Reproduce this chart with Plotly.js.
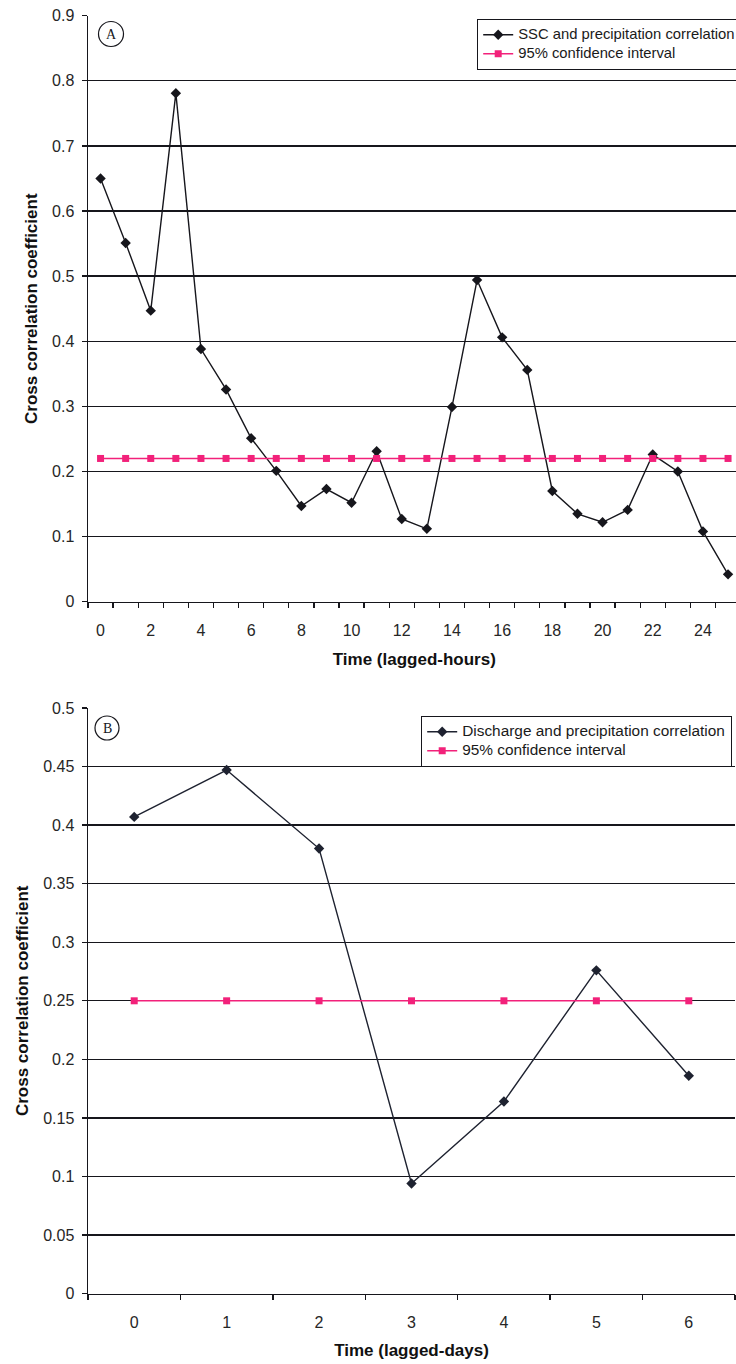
<!DOCTYPE html>
<html>
<head>
<meta charset="utf-8">
<script src="https://cdn.plot.ly/plotly-3.0.1.min.js"></script>
<style>
  html, body { margin: 0; padding: 0; background: #ffffff; overflow: hidden; }
  #frame { width: 736px; height: 1364px; overflow: hidden; position: relative; }
  #chart { width: 780px; height: 1364px; }
</style>
</head>
<body>
<div id="frame"><div id="chart"></div></div>
<script>
// Panel A: hourly lags, SSC vs precipitation
const lagHours = [0, 1, 2, 3, 4, 5, 6, 7, 8, 9, 10, 11, 12, 13, 14, 15, 16, 17, 18, 19, 20, 21, 22, 23, 24, 25];
const hourLabels = ['0', '', '2', '', '4', '', '6', '', '8', '', '10', '', '12', '', '14', '', '16', '', '18', '', '20', '', '22', '', '24', ''];
const sscCorr = [0.650, 0.551, 0.447, 0.781, 0.388, 0.326, 0.251, 0.201, 0.147, 0.173, 0.152, 0.231, 0.127,
                 0.112, 0.299, 0.494, 0.406, 0.356, 0.170, 0.135, 0.122, 0.141, 0.226, 0.200, 0.108, 0.042];
const ciHours = [0.22, 0.22, 0.22, 0.22, 0.22, 0.22, 0.22, 0.22, 0.22, 0.22, 0.22, 0.22, 0.22,
                 0.22, 0.22, 0.22, 0.22, 0.22, 0.22, 0.22, 0.22, 0.22, 0.22, 0.22, 0.22, 0.22];

// Panel B: daily lags, discharge vs precipitation
const lagDays = [0, 1, 2, 3, 4, 5, 6];
const dayLabels = ['0', '1', '2', '3', '4', '5', '6'];
const dischargeCorr = [0.407, 0.447, 0.380, 0.094, 0.164, 0.276, 0.186];
const ciDays = [0.25, 0.25, 0.25, 0.25, 0.25, 0.25, 0.25];

// The figure is a little wider than the visible frame, so the plot area
// and legends run off the right-hand edge.
const W = 780, H = 1364;
const px = v => v / W;          // horizontal pixel -> paper fraction
const py = v => 1 - v / H;      // vertical pixel (from top) -> paper fraction

const INK = '#16161c';
const PINK = '#f2217a';
const FONT = 'Liberation Sans, Arial, Helvetica, sans-serif';

// Legend rows are spaced from a small base font; the entry text itself is set larger.
const entry = (text, size) => '<span style="font-size:' + size + 'px">' + text + '</span>';

const ciLine = { color: PINK, width: 1.5 };

const traces = [
  {
    x: lagHours, y: sscCorr, xaxis: 'x', yaxis: 'y', legend: 'legend',
    name: entry('SSC and precipitation correlation', 14.8), mode: 'lines+markers',
    line: { color: INK, width: 1.4 }, marker: { symbol: 'diamond', size: 8, color: INK }
  },
  {
    x: lagHours, y: ciHours, xaxis: 'x', yaxis: 'y', legend: 'legend',
    name: entry('95% confidence interval', 14.8), mode: 'lines+markers',
    line: ciLine, marker: { symbol: 'square', size: 7, color: PINK }
  },
  {
    x: lagDays, y: dischargeCorr, xaxis: 'x2', yaxis: 'y2', legend: 'legend2',
    name: entry('Discharge and precipitation correlation', 15.4), mode: 'lines+markers',
    line: { color: '#1e2230', width: 1.4 }, marker: { symbol: 'diamond', size: 8, color: '#1e2230' }
  },
  {
    x: lagDays, y: ciDays, xaxis: 'x2', yaxis: 'y2', legend: 'legend2',
    name: entry('95% confidence interval', 15.4), mode: 'lines+markers',
    line: ciLine, marker: { symbol: 'square', size: 7, color: PINK }
  }
];

const tickFont = { family: FONT, size: 16, color: '#262626' };
const titleFont = { family: FONT, size: 17, color: '#111111', weight: 'bold' };

function catAxis(domainPx, anchor, vals, labels, range, title) {
  return {
    domain: [px(domainPx[0]), px(domainPx[1])], anchor: anchor,
    type: 'category', range: range,
    tickmode: 'array', tickvals: vals, ticktext: labels, tickangle: 0,
    tickson: 'boundaries', ticks: 'outside', ticklen: 5, tickwidth: 1.3, tickcolor: INK,
    ticklabelstandoff: 14,
    showline: true, linecolor: INK, linewidth: 1.5,
    showgrid: false, zeroline: false,
    tickfont: tickFont,
    title: { text: title, font: titleFont, standoff: 14 },
    fixedrange: true
  };
}

function valAxis(domainTopPx, domainBotPx, anchor, range, dtick) {
  return {
    domain: [py(domainBotPx), py(domainTopPx)], anchor: anchor,
    range: range, tick0: 0, dtick: dtick,
    ticks: 'outside', ticklen: 5, tickwidth: 1.3, tickcolor: INK,
    ticklabelstandoff: 4,
    showline: true, linecolor: INK, linewidth: 1.5,
    showgrid: true, gridcolor: INK, gridwidth: 1.3,
    zeroline: false,
    tickfont: tickFont,
    title: { text: 'Cross correlation coefficient', font: titleFont, standoff: 10 },
    fixedrange: true
  };
}

const legendBase = {
  xanchor: 'left', yanchor: 'top',
  bgcolor: '#ffffff', bordercolor: INK, borderwidth: 1.2,
  font: { family: FONT, size: 12, color: '#1a1a1a' },
  itemwidth: 30, tracegroupgap: 0
};

const layout = {
  width: W, height: H,
  margin: { l: 0, r: 0, t: 0, b: 0, pad: 0 },
  paper_bgcolor: '#ffffff', plot_bgcolor: '#ffffff',
  font: { family: FONT, color: '#222222' },
  showlegend: true,
  xaxis: catAxis([88, 740.6], 'y', lagHours, hourLabels, [-0.5, 25.5], 'Time (lagged-hours)'),
  yaxis: valAxis(15.7, 601.7, 'x', [0, 0.9], 0.1),
  xaxis2: catAxis([88, 735], 'y2', lagDays, dayLabels, [-0.5, 6.5], 'Time (lagged-days)'),
  yaxis2: valAxis(708, 1293.6, 'x2', [0, 0.5], 0.05),
  legend: Object.assign({}, legendBase, { x: px(477), y: py(19) }),
  legend2: Object.assign({}, legendBase, { x: px(421), y: py(716) }),
  shapes: [
    { type: 'circle', xref: 'paper', yref: 'paper',
      x0: px(98.5), x1: px(123.5), y0: py(46.5), y1: py(21.5),
      line: { color: INK, width: 1.2 } },
    { type: 'circle', xref: 'paper', yref: 'paper',
      x0: px(95), x1: px(119), y0: py(740), y1: py(716),
      line: { color: INK, width: 1.2 } }
  ],
  annotations: [
    { text: 'A', xref: 'paper', yref: 'paper', x: px(111), y: py(34.5), showarrow: false,
      xanchor: 'center', yanchor: 'middle',
      font: { family: 'Liberation Serif, Times New Roman, serif', size: 14, color: INK } },
    { text: 'B', xref: 'paper', yref: 'paper', x: px(107), y: py(728.5), showarrow: false,
      xanchor: 'center', yanchor: 'middle',
      font: { family: 'Liberation Serif, Times New Roman, serif', size: 14, color: INK } }
  ]
};

Plotly.newPlot('chart', traces, layout, { staticPlot: true, displayModeBar: false });
</script>
</body>
</html>
